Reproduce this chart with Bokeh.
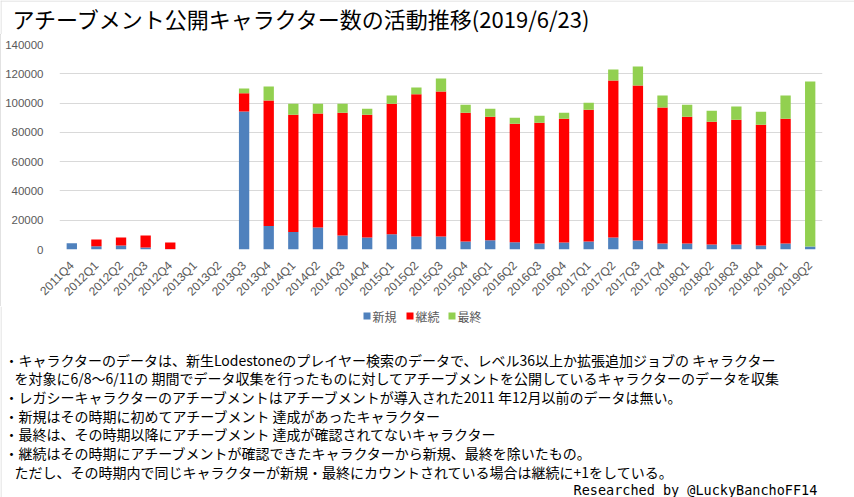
from bokeh.plotting import figure
from bokeh.models import ColumnDataSource, FactorRange, Range1d, FixedTicker, NumeralTickFormatter
from bokeh.embed import file_html
from bokeh.resources import INLINE
from bokeh.core.properties import value
import math

# ---------------- data ----------------
categories = ["2011Q4", "2012Q1", "2012Q2", "2012Q3", "2012Q4", "2013Q1", "2013Q2",
              "2013Q3", "2013Q4", "2014Q1", "2014Q2", "2014Q3", "2014Q4",
              "2015Q1", "2015Q2", "2015Q3", "2015Q4", "2016Q1", "2016Q2", "2016Q3",
              "2016Q4", "2017Q1", "2017Q2", "2017Q3", "2017Q4", "2018Q1", "2018Q2",
              "2018Q3", "2018Q4", "2019Q1", "2019Q2"]
new_chars = [4300, 2300, 2700, 1400, 200, 0, 0,
             94300, 16000, 11900, 15100, 9600, 8200,
             10500, 8900, 8900, 5500, 6400, 5000, 4100,
             4800, 5500, 8200, 6200, 4100, 4100, 3400,
             3400, 2700, 4100, 2100]
cont_chars = [0, 4500, 5500, 8200, 4600, 0, 0,
              12400, 85700, 80200, 77700, 83800, 83900,
              89100, 97100, 99000, 87900, 84300, 80900, 82500,
              84500, 90000, 107200, 105800, 92800, 86600, 83800,
              85200, 82500, 85200, 0]
last_chars = [0, 0, 0, 0, 0, 0, 0,
              3200, 9600, 7500, 6800, 6200, 4100,
              5500, 4600, 8900, 5500, 5500, 4100, 4800,
              4100, 4800, 7600, 13000, 8200, 8200, 7600,
              9000, 8900, 15800, 112600]
series_names = ["新規", "継続", "最終"]
series_keys = ["new", "cont", "last"]
series_colors = ["#4f81bd", "#ff0000", "#92d050"]
y_ticks = [0, 20000, 40000, 60000, 80000, 100000, 120000, 140000]

title_text = "アチーブメント公開キャラクター数の活動推移(2019/6/23)"
note_lines = [
    "・キャラクターのデータは、新生Lodestoneのプレイヤー検索のデータで、レベル36以上か拡張追加ジョブの キャラクター",
    "を対象に6/8～6/11の 期間でデータ収集を行ったものに対してアチーブメントを公開しているキャラクターのデータを収集",
    "・レガシーキャラクターのアチーブメントはアチーブメントが導入された2011 年12月以前のデータは無い。",
    "・新規はその時期に初めてアチーブメント 達成があったキャラクター",
    "・最終は、その時期以降にアチーブメント 達成が確認されてないキャラクター",
    "・継続はその時期にアチーブメントが確認できたキャラクターから新規、最終を除いたもの。",
    "ただし、その時期内で同じキャラクターが新規・最終にカウントされている場合は継続に+1をしている。",
]
credit_text = "Researched by @LuckyBanchoFF14"

W = 854
JP = "Noto Sans CJK JP"
GRAY = "#595959"
EDGE = "#d9d9d9"


def text_fig(h):
    f = figure(width=W, height=h, x_range=Range1d(0, W), y_range=Range1d(h, 0),
               output_backend="svg", toolbar_location=None,
               x_axis_location=None, y_axis_location=None,
               min_border=0, outline_line_color=None)
    f.grid.visible = False
    return f


# ---------------- title (page y 0..34) ----------------
ft = text_fig(34)
ft.segment(x0=[0.5, 0], y0=[0, 0.5], x1=[0.5, W], y1=[34, 0.5], line_color=EDGE, line_width=1)
ft.text(x=[12], y=[17], text=[title_text], text_font=value(JP), text_font_size="22px",
        text_color="#000000", text_baseline="middle", text_align="left")

# ---------------- chart (page y 34..305) ----------------
src = ColumnDataSource(dict(cat=categories, new=new_chars, cont=cont_chars, last=last_chars))
p = figure(frame_width=763, frame_height=205, x_range=FactorRange(*categories),
           y_range=Range1d(0, 140000),
           output_backend="svg", toolbar_location=None,
           min_border_left=59, min_border_right=32, min_border_top=10, min_border_bottom=56,
           outline_line_color=None)
p.vbar_stack(series_keys, x="cat", width=0.42, color=series_colors, source=src, line_width=0)
p.x_range.range_padding = 0
p.xgrid.visible = False
p.ygrid.grid_line_color = EDGE
p.ygrid.grid_line_width = 1
p.yaxis.ticker = FixedTicker(ticks=y_ticks)
p.yaxis.formatter = NumeralTickFormatter(format="0")
for ax in (p.xaxis[0], p.yaxis[0]):
    ax.axis_line_color = None
    ax.major_tick_line_color = None
    ax.minor_tick_line_color = None
    ax.major_label_text_color = GRAY
    ax.major_label_text_font = "Liberation Sans"
p.yaxis.major_label_text_font_size = "11.5px"
p.yaxis.major_label_standoff = 10
p.xaxis.major_label_text_font_size = "12px"
p.xaxis.major_label_orientation = math.pi / 4
p.xaxis.major_label_standoff = 8
p.styles = {"box-shadow": "inset 1px 0 0 " + EDGE}

# ---------------- legend + notes (page y 305..497) ----------------
top = 305
fn = text_fig(497 - top)
fn.segment(x0=[0.5], y0=[0], x1=[0.5], y1=[497 - top], line_color=EDGE, line_width=1)
leg_sq_x = [363, 406, 448]
leg_tx_x = [372, 415, 457]
fn.rect(x=[v + 3.5 for v in leg_sq_x], y=[314.5 - top] * 3, width=7, height=7,
        color=series_colors, line_width=0)
fn.text(x=leg_tx_x, y=[314.5 - top] * 3, text=series_names, text_font=value(JP),
        text_font_size="12px", text_color=GRAY, text_baseline="middle")
note_x = [4, 14, 4, 4, 4, 4, 14]
note_y = [358 - top + i * 18.67 for i in range(len(note_lines))]
fn.text(x=note_x, y=note_y, text=note_lines, text_font=value(JP), text_font_size="14px",
        text_color="#000000", text_baseline="middle")
fn.text(x=[573], y=[488 - top], text=[credit_text], text_font=value("DejaVu Sans Mono"),
        text_font_size="13.5px", text_color="#000000", text_baseline="middle")

open("out.html", "w").write(file_html([ft, p, fn], INLINE))
